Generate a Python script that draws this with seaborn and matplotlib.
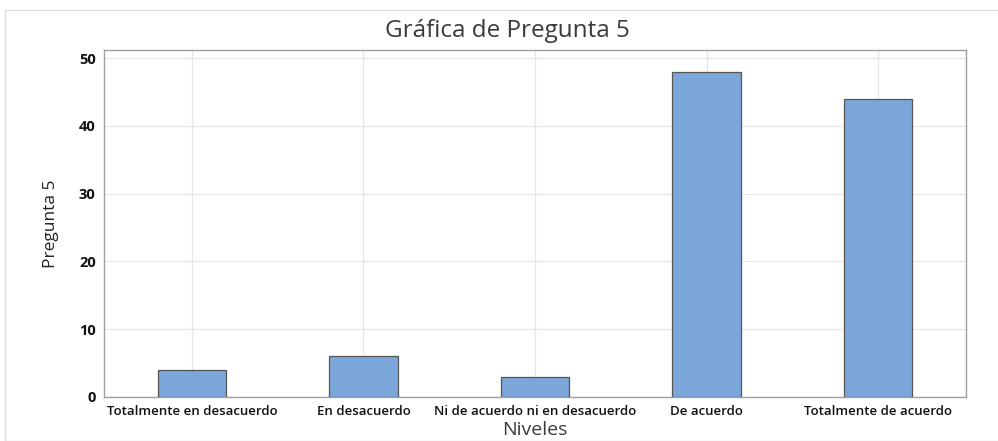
import matplotlib
matplotlib.use("Agg")
import matplotlib.pyplot as plt
import seaborn as sns
import pandas as pd
from matplotlib.patches import Rectangle

categories = ["Totalmente en desacuerdo", "En desacuerdo", "Ni de acuerdo ni en desacuerdo",
              "De acuerdo", "Totalmente de acuerdo"]
values = [4, 6, 3, 48, 44]
yticks = [0, 10, 20, 30, 40, 50]

sns.set_theme(style="white")
plt.rcParams['font.family'] = ['Open Sans', 'DejaVu Sans']

df = pd.DataFrame({"Niveles": categories, "Pregunta 5": values})

fig = plt.figure(figsize=(9.98, 4.41), dpi=100)
fig.patches.append(Rectangle((5/998, 0.0), 1.2, 1 - 10/441, transform=fig.transFigure,
                             fill=False, edgecolor="#dddddd", linewidth=1.0))
ax = fig.add_axes([104/998, 1 - 397/441, (966-104)/998, (397-50)/441])

sns.barplot(data=df, x="Niveles", y="Pregunta 5", ax=ax, color="#7ba6d9",
            saturation=1, width=0.40, edgecolor="#555555", linewidth=0.9, zorder=3)

ax.set_xlim(-0.513, 4.513)
ax.set_ylim(0, 51.2)
ax.set_yticks(yticks)
ax.grid(True, color="#e6e6e6", linewidth=0.9, zorder=0)
ax.set_axisbelow(True)
for s in ax.spines.values():
    s.set_color("#a0a0a0")
    s.set_linewidth(1.0)
ax.tick_params(axis="both", which="both", length=4, color="#a0a0a0", width=0.8,
               labelsize=9.5, labelcolor="#111111", pad=2)
ax.tick_params(axis="y", labelsize=10.5)
for lab in ax.get_xticklabels():
    lab.set_fontweight("semibold")
for lab in ax.get_yticklabels():
    lab.set_fontweight("bold")
ax.set_xlabel("Niveles", fontsize=14, color="#3a3a3a", labelpad=2, fontweight="medium")
ax.set_ylabel("Pregunta 5", fontsize=12.5, color="#222222", labelpad=14)
fig.text(0.508, 1 - 31/441, "Gráfica de Pregunta 5", ha="center", va="center",
         fontsize=17.5, color="#3a3a3a", fontweight="medium")

fig.savefig("out.png", dpi=100)
